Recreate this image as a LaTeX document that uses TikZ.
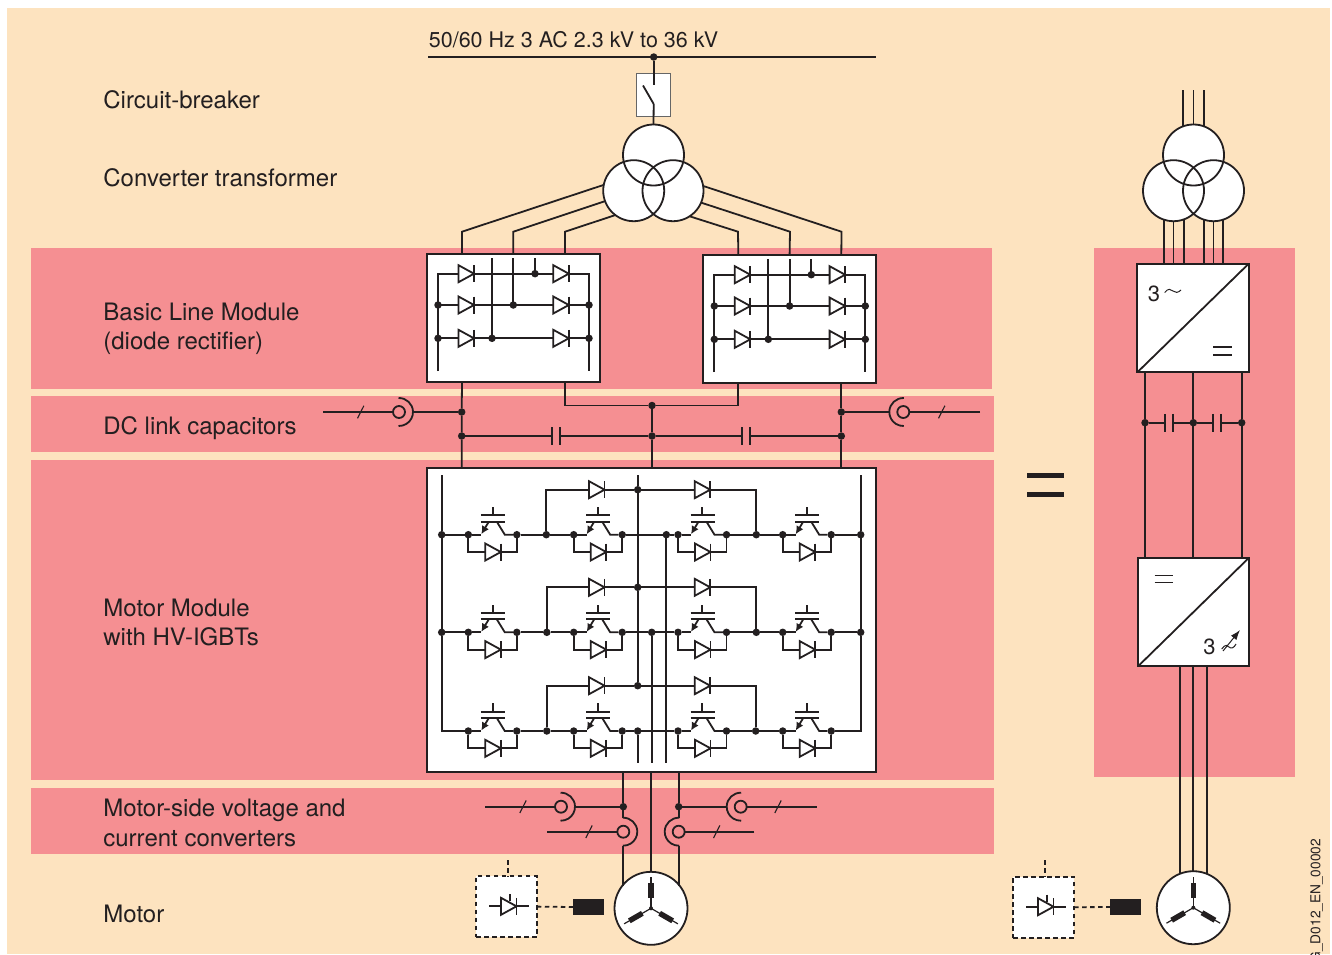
\documentclass[tikz,border=0pt]{standalone}
\usepackage{fontspec}
\setmainfont{TeX Gyre Heros}
\usetikzlibrary{arrows.meta}
\definecolor{ink}{HTML}{231F20}
\definecolor{cream}{HTML}{FDE3BF}
\definecolor{rose}{HTML}{F58F92}

\tikzset{
    dot/.style={circle,fill,inner sep=0pt,outer sep=0pt,minimum size=7.5pt},
    whitebox/.style={rectangle,draw,fill=white,inner sep=0pt,outer sep=0pt,line width=2pt},
    ring/.style={circle,fill=white,inner sep=0pt,outer sep=0pt,minimum size=61pt},
    lab/.style={anchor=west,align=left,inner sep=0pt,font=\fontsize{24}{29.5}\selectfont},
    sigline/.style={dash pattern=on 4.5pt off 3.5pt},
    diode/.pic={
        \draw[fill=white] (-8,-8.5) -- (7.5,0) -- (-8,8.5) -- cycle;
        \draw (7.5,-8.5) -- (7.5,8.5);
    },
    thyristor/.pic={
        \coordinate (-a) at (-20,0);
        \coordinate (-k) at (20,0);
        \draw (-a) -- (-k);
        \pic {diode};
        \draw (1,-12) -- (1,-5);
    },
    tick/.pic={
        \draw[line width=1.1pt] (-3.2,6.3) -- (3.2,-6.3);
    },
    capac/.pic={
        \coordinate (-l) at (-4.2,0);
        \coordinate (-r) at (4.2,0);
        \draw (-4.2,-8.8) -- (-4.2,8.8);
        \draw (4.2,-8.8) -- (4.2,8.8);
    },
    sensor/.pic={
        \coordinate (-in) at (-6,0);
        \coordinate (-out) at (14,0);
        \coordinate (-top) at (0,-14);
        \coordinate (-bot) at (0,14);
        \draw (0,0) circle (6);
        \draw (-92:14) arc (-92:92:14);
    },
    igbtcell/.pic={
        \node[dot] (-in) at (0,0) {};
        \node[dot] (-out) at (48.5,0) {};
        \coordinate (-ll) at (0,17.3);
        \coordinate (-lr) at (48.5,17.3);
        \draw (-in) -- (-ll) -- (-lr) -- (-out);
        \pic at (25,17.3) {diode};
        % emitter and collector legs
        \draw (-in) -- (13,0);
        \draw[-{Latex[length=8pt,width=8pt]}] (20.5,-13) -- (13,-0.5);
        \draw (-out) -- (36.5,0) -- (28.5,-13);
        % gate plates
        \draw[line width=2.2pt] (12.5,-13) -- (36.7,-13);
        \draw[line width=1.9pt] (12.5,-19.3) -- (36.7,-19.3);
        \draw (24.3,-19.3) -- (24.3,-27.7);
    },
    blmbox/.pic={
        \node[whitebox,anchor=north west,minimum width=173pt,minimum height=128.5pt] (-box) at (0,0) {};
        \coordinate (-i1) at (35,0);
        \coordinate (-i2) at (86.3,0);
        \coordinate (-i3) at (138,0);
        \coordinate (-o1) at (35,128.5);
        \coordinate (-o2) at (138,128.5);
        % rails
        \draw (11,117.5) -- (11,20.2) -- (162,20.2) -- (162,117.5);
        \draw (11,51.5) -- (162,51.5);
        \draw (11,84.8) -- (162,84.8);
        \draw (65,4.5) -- (65,84.8);
        \draw (86.3,4.5) -- (86.3,51.5);
        \draw (108,4.5) -- (108,20.2);
        % diodes
        \pic at (39.5,20.2) {diode};
        \pic at (134.3,20.2) {diode};
        \pic at (39.5,51.5) {diode};
        \pic at (134.3,51.5) {diode};
        \pic at (39.5,84.8) {diode};
        \pic at (134.3,84.8) {diode};
        \node[dot] at (11,51.5) {};
        \node[dot] at (11,84.8) {};
        \node[dot] at (162,51.5) {};
        \node[dot] at (162,84.8) {};
        \node[dot] at (65,84.8) {};
        \node[dot] at (86.3,51.5) {};
        \node[dot] at (108,20.2) {};
    },
    winding/.pic={
        \draw[line width=1.2pt] (0,0) -- (0,-31);
        \fill (-2.7,-25) rectangle (2.7,-10);
    }
}

\begin{document}
\begin{tikzpicture}[x=1pt,y=-1pt,line width=1.8pt,color=ink]
    \useasboundingbox (0,0) rectangle (1332,954);
    \clip (0,0) rectangle (1332,954);
    % background and bands
    \fill[white] (0,0) rectangle (1332,954);
    \fill[cream] (7,8) rectangle (1330,954);
    \fill[rose] (31,248) rectangle (992,389);
    \fill[rose] (31,396) rectangle (994,452);
    \fill[rose] (31,460) rectangle (994,780);
    \fill[rose] (31,788) rectangle (994,854);
    \fill[rose] (1094,248) rectangle (1295,777);

    % labels
    \node[lab] (lcb) at (102.5,100) {Circuit-breaker};
    \node[lab] (ltr) at (102.5,178) {Converter transformer};
    \node[lab] (lbl) at (102.5,329) {Basic Line Module\\(diode rectifier)};
    \node[lab] (ldc) at (102.5,428) {DC link capacitors};
    \node[lab] (lmm) at (102.5,622.5) {Motor Module\\with HV-IGBTs};
    \node[lab] (lms) at (102.5,823) {Motor-side voltage and\\current converters};
    \node[lab] (lmo) at (102.5,914) {Motor};
    \node[anchor=base west,inner sep=0pt,font=\fontsize{21.5}{25}\selectfont] (lsup) at (428,47.5) {50/60 Hz 3 AC 2.3 kV to 36 kV};
    \node[anchor=east,rotate=90,inner sep=0pt,font=\fontsize{13.7}{16}\selectfont] (lcode) at (1316.5,838) {G\_D012\_EN\_00002};

    % supply and breaker
    \coordinate (busl) at (428,57);
    \coordinate (busr) at (876,57);
    \node[dot] (busj) at (653.7,57) {};
    \draw (busl) -- (busr);
    \node[rectangle,draw=black!60,line width=1pt,fill=white,minimum width=34pt,minimum height=43pt,inner sep=0pt] (cb) at (653,94.5) {};
    \coordinate (cbu) at (653.7,85);
    \coordinate (cbb) at (643,85.5);
    \coordinate (cbd) at (653.7,104);
    \draw (busj) -- (cbu);
    \draw (cbb) -- (cbd);

    % transformer
    \node[ring] (trt) at (653.5,155) {};
    \node[ring] (trl) at (633.7,190.7) {};
    \node[ring] (trr) at (673,190.7) {};
    \draw (trt.center) circle (30.5);
    \draw (trl.center) circle (30.5);
    \draw (trr.center) circle (30.5);
    \draw (cbd) -- (trt.north);

    % line modules
    \pic (blm1) at (427,253.5) {blmbox};
    \pic (blm2) at (703.3,254.5) {blmbox};
    \draw (trl.169) -- (462,231.7) -- (blm1-i1);
    \draw (trl.200) -- (513.3,231.7) -- (blm1-i2);
    \draw (trl.233) -- (565,231.7) -- (blm1-i3);
    \draw (trr.-57) -- (738,231.7) -- (blm2-i1);
    \draw (trr.-23) -- (790,231.7) -- (blm2-i2);
    \draw (trr.9) -- (841.5,231.7) -- (blm2-i3);

    % motor module box
    \node[whitebox,minimum width=449pt,minimum height=304pt] (mmbox) at (651.5,619.5) {};

    % dc link
    \node[dot] (sl) at (461.7,412) {};
    \node[dot] (sr) at (841.3,412) {};
    \node[dot] (dcl) at (461.7,436) {};
    \node[dot] (dcm) at (652,436) {};
    \node[dot] (dcr) at (841.3,436) {};
    \node[dot] (dct) at (652,405.5) {};
    \draw (blm1-o1) -- (sl) -- (dcl) -- (dcl |- mmbox.north);
    \draw (blm2-o2) -- (sr) -- (dcr) -- (dcr |- mmbox.north);
    \draw (blm1-o2) |- (dct) -| (blm2-o1);
    \draw (dct) -- (dcm) -- (dcm |- mmbox.north);
    \pic (c1) at (556,436) {capac};
    \pic (c2) at (746,436) {capac};
    \draw (dcl) -- (c1-l);
    \draw (c1-r) -- (dcm);
    \draw (dcm) -- (c2-l);
    \draw (c2-r) -- (dcr);
    % dc link sensors
    \coordinate (fa1) at (323,412);
    \coordinate (fa2) at (980,412);
    \pic (sdc1) at (399,412) {sensor};
    \pic[xscale=-1] (sdc2) at (903.3,412) {sensor};
    \draw (fa1) -- (sdc1-in);
    \draw (sdc1-out) -- (sl);
    \draw (fa2) -- (sdc2-in);
    \draw (sdc2-out) -- (sr);
    \pic at (360.7,412) {tick};
    \pic at (941.7,412) {tick};

    % igbt cells
    \pic (q11) at (468.3,534.7) {igbtcell};
    \pic (q12) at (573.7,534.7) {igbtcell};
    \pic (q13) at (678,534.7) {igbtcell};
    \pic (q14) at (782.7,534.7) {igbtcell};
    \pic (q21) at (468.3,632.3) {igbtcell};
    \pic (q22) at (573.7,632.3) {igbtcell};
    \pic (q23) at (678,632.3) {igbtcell};
    \pic (q24) at (782.7,632.3) {igbtcell};
    \pic (q31) at (468.3,731) {igbtcell};
    \pic (q32) at (573.7,731) {igbtcell};
    \pic (q33) at (678,731) {igbtcell};
    \pic (q34) at (782.7,731) {igbtcell};

    % outer rails
    \coordinate (ra0) at (441.7,475);
    \coordinate (rb0) at (860.7,475);
    \coordinate (ra3) at (441.7,731);
    \coordinate (rb3) at (860.7,731);
    \node[dot] (ra1) at (441.7,534.7) {};
    \node[dot] (ra2) at (441.7,632.3) {};
    \node[dot] (rb1) at (860.7,534.7) {};
    \node[dot] (rb2) at (860.7,632.3) {};
    \draw (ra0) -- (ra1) -- (ra2) -- (ra3) -- (q31-in);
    \draw (rb0) -- (rb1) -- (rb2) -- (rb3) -- (q34-out);
    \draw (ra1) -- (q11-in);
    \draw (ra2) -- (q21-in);
    \draw (q14-out) -- (rb1);
    \draw (q24-out) -- (rb2);

    % row 1
    \node[dot] (jl1) at (546.3,534.7) {};
    \node[dot] (jc1) at (666.3,534.7) {};
    \node[dot] (jr1) at (756.3,534.7) {};
    \node[dot] (uc1) at (637.7,489.7) {};
    \coordinate (ul1) at (546.3,489.7);
    \coordinate (ur1) at (756.3,489.7);
    \draw (q11-out) -- (jl1) -- (q12-in);
    \draw (q12-out) -- (jc1) -- (q13-in);
    \draw (q13-out) -- (jr1) -- (q14-in);
    \draw (jl1) -- (ul1) -- (uc1) -- (ur1) -- (jr1);
    \pic at (597,489.7) {diode};
    \pic at (702.7,489.7) {diode};

    % row 2
    \node[dot] (jl2) at (546.8,632.3) {};
    \node[dot] (jc2) at (651.7,632.3) {};
    \node[dot] (jr2) at (756.3,632.3) {};
    \node[dot] (uc2) at (637.7,587.3) {};
    \coordinate (ul2) at (546.8,587.3);
    \coordinate (ur2) at (756.3,587.3);
    \draw (q21-out) -- (jl2) -- (q22-in);
    \draw (q22-out) -- (jc2) -- (q23-in);
    \draw (q23-out) -- (jr2) -- (q24-in);
    \draw (jl2) -- (ul2) -- (uc2) -- (ur2) -- (jr2);
    \pic at (597,587.3) {diode};
    \pic at (702.7,587.3) {diode};

    % row 3
    \node[dot] (jl3) at (546.8,731) {};
    \node[dot] (jc3) at (637.7,731) {};
    \node[dot] (jr3) at (755.7,731) {};
    \node[dot] (uc3) at (637.7,685.7) {};
    \coordinate (ul3) at (546.8,685.7);
    \coordinate (ur3) at (755.7,685.7);
    \draw (q31-out) -- (jl3) -- (q32-in);
    \draw (q32-out) -- (jc3) -- (q33-in);
    \draw (q33-out) -- (jr3) -- (q34-in);
    \draw (jl3) -- (ul3) -- (uc3) -- (ur3) -- (jr3);
    \pic at (597,685.7) {diode};
    \pic at (702.7,685.7) {diode};

    % centre verticals
    \coordinate (c0) at (637.7,475);
    \coordinate (e1) at (666.3,763);
    \coordinate (e2) at (651.7,763);
    \coordinate (e3) at (637.7,763);
    \draw (c0) -- (uc1) -- (uc2) -- (uc3);
    \draw (jc1) -- (e1);
    \draw (jc2) -- (e2);
    \draw (jc3) -- (e3);

    % motor side
    \node[circle,draw,fill=white,inner sep=0pt,outer sep=0pt,minimum size=73pt] (mot1) at (651,908.3) {};
    \pic at (mot1.center) {winding};
    \pic[rotate=120] at (mot1.center) {winding};
    \pic[rotate=-120] at (mot1.center) {winding};
    \node[dot,minimum size=4pt] (motc1) at (mot1.center) {};
    \coordinate (mo1) at (623.3,771.5);
    \coordinate (mo3) at (678.7,771.5);
    \node[dot] (ms1) at (623.3,806.7) {};
    \node[dot] (ms3) at (678.7,806.7) {};
    \pic (su1) at (561,806.7) {sensor};
    \pic (si1) at (623.3,831.7) {sensor};
    \pic[xscale=-1] (su3) at (740.7,806.7) {sensor};
    \pic[xscale=-1] (si3) at (678.7,831.7) {sensor};
    \draw (mo1) -- (ms1) -- (si1-top);
    \draw (si1-bot) -- (si1-bot |- mot1.142);
    \draw (mo3) -- (ms3) -- (si3-top);
    \draw (si3-bot) -- (si3-bot |- mot1.38);
    \draw (mmbox.south -| mot1.north) -- (mot1.north);
    \draw (su1-out) -- (ms1);
    \draw (su3-out) -- (ms3);
    \coordinate (fb1) at (485,806.7);
    \coordinate (fb2) at (816.7,806.7);
    \coordinate (fb3) at (547.3,831.7);
    \coordinate (fb4) at (754.3,831.7);
    \draw (fb1) -- (su1-in);
    \draw (fb2) -- (su3-in);
    \draw (fb3) -- (si1-in);
    \draw (fb4) -- (si3-in);
    \pic at (523,806.7) {tick};
    \pic at (778,806.7) {tick};
    \pic at (589,831.7) {tick};
    \pic at (716.7,831.7) {tick};

    % encoder and gate unit
    \node[whitebox,line width=1.8pt,sigline,minimum width=60.7pt,minimum height=61pt] (gu1) at (506.4,906.6) {};
    \node[rectangle,fill,inner sep=0pt,outer sep=0pt,minimum width=30.7pt,minimum height=16pt] (enc1) at (588.7,907) {};
    \coordinate (gs1) at (508.3,860);
    \draw[sigline] (gu1.east) -- (enc1.west);
    \draw[sigline] (gs1) -- (gu1.north -| gs1);
    \pic at (509,906.3) {thyristor};

    % equals sign
    \fill (1026.7,472.7) rectangle (1064.3,477.7);
    \fill (1026.7,491.7) rectangle (1064.3,497);

    % simplified branch
    \node[ring] (trt2) at (1193.5,155) {};
    \node[ring] (trl2) at (1173.5,190.7) {};
    \node[ring] (trr2) at (1213.5,190.7) {};
    \draw (trt2.center) circle (30.5);
    \draw (trl2.center) circle (30.5);
    \draw (trr2.center) circle (30.5);
    \coordinate (in2) at (1193.5,90);
    \draw (in2 -| trt2.110) -- (trt2.110);
    \draw (in2) -- (trt2.north);
    \draw (in2 -| trt2.70) -- (trt2.70);

    \node[whitebox,minimum width=111.4pt,minimum height=108.6pt] (conv1) at (1193,318) {};
    \node[whitebox,minimum width=111pt,minimum height=108.6pt] (conv2) at (1193.5,612) {};
    \draw (conv1.south west) -- (conv1.north east);
    \draw (conv2.south west) -- (conv2.north east);
    \draw (trl2.252) -- (trl2.252 |- conv1.north);
    \draw (trl2.south) -- (trl2.south |- conv1.north);
    \draw (trl2.290) -- (trl2.290 |- conv1.north);
    \draw (trr2.252) -- (trr2.252 |- conv1.north);
    \draw (trr2.south) -- (trr2.south |- conv1.north);
    \draw (trr2.288) -- (trr2.288 |- conv1.north);

    \node[dot] (dl2) at (1145,422.7) {};
    \node[dot] (dm2) at (1193.3,422.7) {};
    \node[dot] (dr2) at (1241.7,422.7) {};
    \draw (dl2 |- conv1.south) -- (dl2) -- (dl2 |- conv2.north);
    \draw (dm2 |- conv1.south) -- (dm2) -- (dm2 |- conv2.north);
    \draw (dr2 |- conv1.south) -- (dr2) -- (dr2 |- conv2.north);
    \pic (c3) at (1169,422.7) {capac};
    \pic (c4) at (1217,422.7) {capac};
    \draw (dl2) -- (c3-l);
    \draw (c3-r) -- (dm2);
    \draw (dm2) -- (c4-l);
    \draw (c4-r) -- (dr2);

    % converter symbols
    \node[anchor=base,font=\fontsize{22}{26}\selectfont] (n31) at (1154,301) {3};
    \draw[line width=1pt] (1164.7,292.5) .. controls (1168,288) and (1171,289) .. (1173,291) .. controls (1175,293) and (1178,293) .. (1181,290);
    \draw[line width=1.3pt] (1213.3,347) -- (1232,347);
    \draw[line width=1.3pt] (1213.3,355) -- (1232,355);
    \draw[line width=1.3pt] (1154.7,575.3) -- (1173.3,575.3);
    \draw[line width=1.3pt] (1154.7,582.5) -- (1173.3,582.5);
    \node[anchor=base,font=\fontsize{22}{26}\selectfont] (n32) at (1209.5,654.5) {3};
    \draw[line width=1pt] (1221.7,649) .. controls (1225,644) and (1228,645) .. (1229,647) .. controls (1231,649) and (1234,648) .. (1236,644);
    \draw[line width=1pt,-{Latex[length=10pt,width=7pt]}] (1223,651) -- (1240,630);

    % motor, simplified
    \node[circle,draw,fill=white,inner sep=0pt,outer sep=0pt,minimum size=73pt] (mot2) at (1193.3,907.7) {};
    \pic at (mot2.center) {winding};
    \pic[rotate=120] at (mot2.center) {winding};
    \pic[rotate=-120] at (mot2.center) {winding};
    \node[dot,minimum size=4pt] (motc2) at (mot2.center) {};
    \draw (conv2.south -| mot2.112) -- (mot2.112);
    \draw (conv2.south -| mot2.north) -- (mot2.north);
    \draw (conv2.south -| mot2.68) -- (mot2.68);

    \node[whitebox,line width=1.8pt,sigline,minimum width=60.7pt,minimum height=61pt] (gu2) at (1043.7,907.2) {};
    \node[rectangle,fill,inner sep=0pt,outer sep=0pt,minimum width=30.7pt,minimum height=16pt] (enc2) at (1125.5,907) {};
    \coordinate (gs2) at (1045.3,860);
    \draw[sigline] (gu2.east) -- (enc2.west);
    \draw[sigline] (gs2) -- (gu2.north -| gs2);
    \pic at (1046,906.7) {thyristor};
\end{tikzpicture}
\end{document}
